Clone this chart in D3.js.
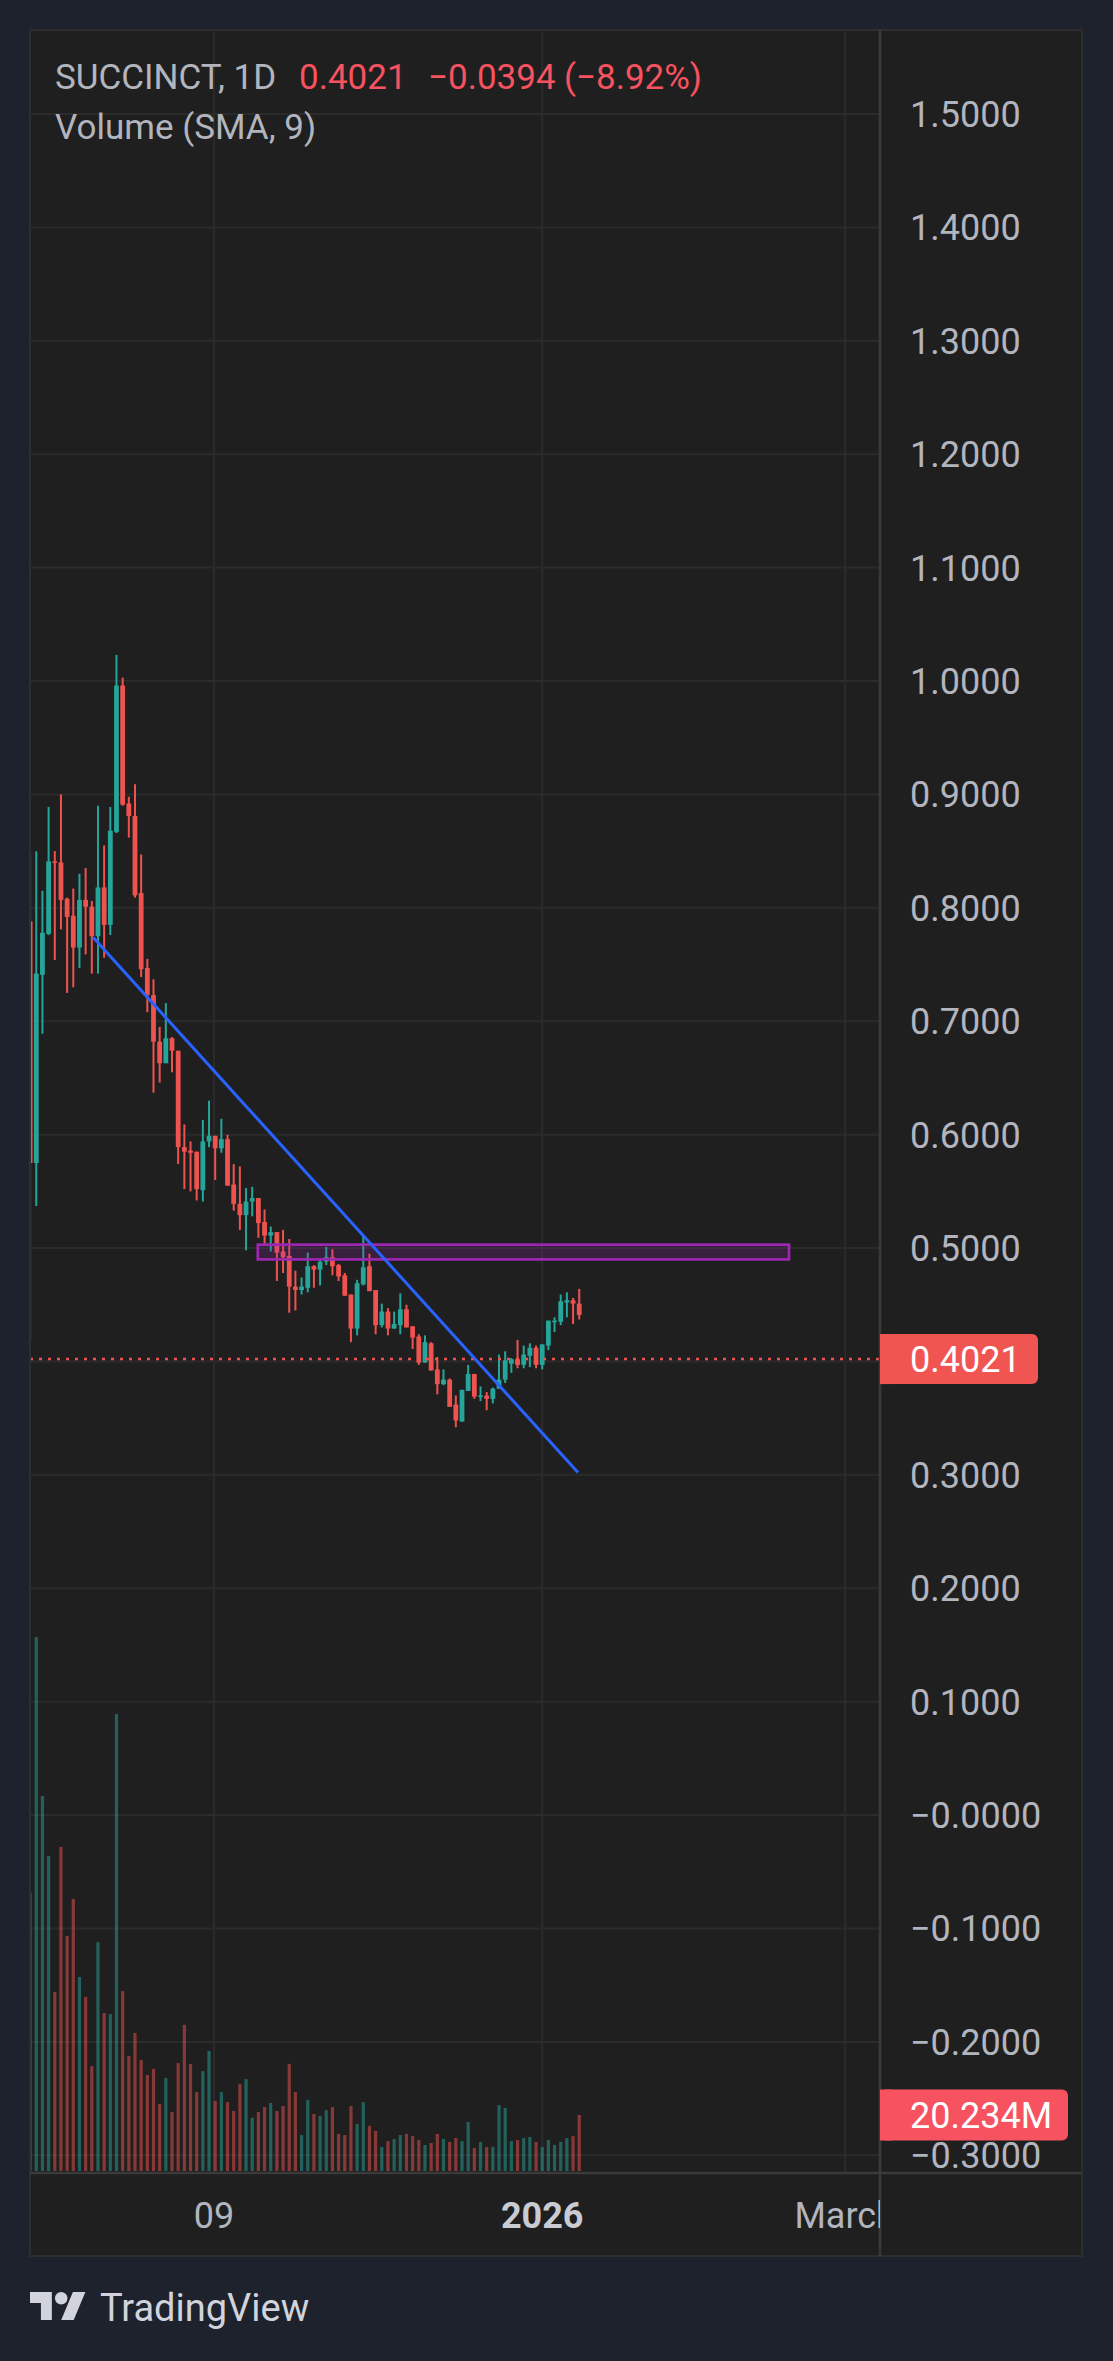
<!DOCTYPE html>
<html lang="en">
<head>
    <script src="https://d3js.org/d3.v7.min.js"></script>
    <style>
        html, body { margin: 0; padding: 0; background: #1e222d; }
        svg { display: block; font-family: Roboto, "Noto Sans", sans-serif; }
        .tick-label { fill: #b2b5be; font-size: 36px; }
        .legend { font-size: 35px; }
    </style>
</head>
<body>
    <div id="chart"></div>

    <script>
        // Daily candles (bar index 0 = first visible bar)
        const opens  = [0.788, 0.575, 0.741, 0.777, 0.841, 0.840, 0.808, 0.793, 0.765, 0.807,
                        0.801, 0.775, 0.818, 0.785, 0.867, 0.996, 0.892, 0.881, 0.813, 0.747,
                        0.723, 0.682, 0.663, 0.685, 0.674, 0.589, 0.586, 0.585, 0.551, 0.594,
                        0.599, 0.588, 0.596, 0.556, 0.539, 0.529, 0.541, 0.544, 0.523, 0.511,
                        0.514, 0.497, 0.493, 0.466, 0.463, 0.465, 0.484, 0.481, 0.488, 0.492,
                        0.485, 0.476, 0.459, 0.429, 0.468, 0.484, 0.463, 0.432, 0.444, 0.429,
                        0.432, 0.446, 0.431, 0.422, 0.399, 0.416, 0.393, 0.380, 0.384, 0.362,
                        0.347, 0.374, 0.389, 0.369, 0.370, 0.367, 0.376, 0.384, 0.398, 0.402,
                        0.397, 0.405, 0.412, 0.397, 0.414, 0.435, 0.435, 0.452, 0.454, 0.451];
        const highs  = [0.848, 0.850, 0.815, 0.889, 0.850, 0.900, 0.809, 0.817, 0.830, 0.835,
                        0.806, 0.890, 0.855, 0.889, 1.023, 1.003, 0.898, 0.909, 0.847, 0.755,
                        0.737, 0.695, 0.716, 0.686, 0.674, 0.609, 0.594, 0.585, 0.613, 0.630,
                        0.599, 0.614, 0.600, 0.574, 0.572, 0.553, 0.554, 0.544, 0.534, 0.519,
                        0.514, 0.516, 0.508, 0.480, 0.474, 0.496, 0.485, 0.490, 0.501, 0.499,
                        0.486, 0.478, 0.459, 0.472, 0.511, 0.495, 0.463, 0.451, 0.447, 0.444,
                        0.460, 0.450, 0.431, 0.424, 0.423, 0.417, 0.404, 0.393, 0.385, 0.370,
                        0.375, 0.397, 0.389, 0.378, 0.373, 0.377, 0.406, 0.409, 0.403, 0.419,
                        0.414, 0.416, 0.414, 0.415, 0.436, 0.439, 0.459, 0.461, 0.456, 0.464];
        const lows   = [0.419, 0.537, 0.689, 0.776, 0.754, 0.781, 0.725, 0.730, 0.747, 0.759,
                        0.742, 0.742, 0.756, 0.776, 0.866, 0.890, 0.862, 0.809, 0.739, 0.708,
                        0.637, 0.646, 0.663, 0.655, 0.574, 0.552, 0.550, 0.542, 0.541, 0.589,
                        0.560, 0.584, 0.555, 0.533, 0.516, 0.498, 0.528, 0.509, 0.502, 0.497,
                        0.471, 0.478, 0.443, 0.445, 0.459, 0.461, 0.465, 0.467, 0.485, 0.476,
                        0.471, 0.458, 0.417, 0.423, 0.467, 0.462, 0.424, 0.430, 0.423, 0.429,
                        0.424, 0.430, 0.411, 0.397, 0.399, 0.392, 0.371, 0.379, 0.360, 0.342,
                        0.347, 0.374, 0.367, 0.365, 0.357, 0.363, 0.376, 0.381, 0.390, 0.394,
                        0.394, 0.395, 0.394, 0.393, 0.410, 0.426, 0.432, 0.439, 0.433, 0.437];
        const closes = [0.575, 0.742, 0.778, 0.841, 0.840, 0.807, 0.792, 0.765, 0.807, 0.801,
                        0.775, 0.818, 0.785, 0.868, 0.996, 0.891, 0.881, 0.811, 0.746, 0.723,
                        0.682, 0.663, 0.685, 0.674, 0.589, 0.585, 0.584, 0.552, 0.594, 0.599,
                        0.588, 0.596, 0.555, 0.539, 0.529, 0.541, 0.544, 0.522, 0.511, 0.514,
                        0.496, 0.492, 0.466, 0.463, 0.466, 0.484, 0.481, 0.488, 0.492, 0.484,
                        0.475, 0.458, 0.429, 0.469, 0.483, 0.462, 0.432, 0.444, 0.429, 0.433,
                        0.446, 0.430, 0.421, 0.399, 0.417, 0.392, 0.380, 0.384, 0.360, 0.348,
                        0.375, 0.389, 0.369, 0.370, 0.367, 0.376, 0.384, 0.401, 0.402, 0.397,
                        0.406, 0.412, 0.397, 0.415, 0.436, 0.436, 0.453, 0.454, 0.451, 0.441];
        // volume in millions
        const volumes = [100.6, 192.9, 135.5, 113.8, 64.7, 117.1, 84.9, 98.3, 70.1, 62.9,
                         37.9, 82.7, 57.1, 56.7, 165.1, 65.0, 41.6, 49.9, 40.1, 34.7,
                         36.9, 24.2, 33.6, 21.3, 39.0, 52.8, 38.7, 28.5, 36.1, 43.4,
                         25.3, 28.5, 24.9, 21.7, 31.4, 33.2, 19.2, 21.3, 23.1, 24.6,
                         21.7, 23.5, 38.7, 28.5, 13.0, 25.7, 20.6, 19.9, 22.0, 23.1,
                         13.4, 13.0, 23.5, 17.0, 24.9, 16.3, 14.5, 8.7, 10.8, 11.6,
                         13.0, 13.4, 12.6, 11.2, 9.4, 10.1, 13.4, 11.6, 10.5, 11.9,
                         10.8, 17.7, 8.3, 10.5, 8.7, 8.7, 23.8, 22.8, 10.8, 11.2,
                         11.9, 12.3, 10.5, 8.7, 11.2, 9.4, 10.5, 11.9, 12.6, 20.234];

        // Axis ticks
        const priceTicks = d3.range(-3, 16).map(k => k / 10);
        const timeTickIdx = [29.8, 83.0, 132.1];
        const timeTickLabels = ['09', '2026', 'March'];

        // Drawings on the chart
        const trendIdx = [10.2, 88.8];
        const trendPrice = [0.774, 0.302];
        const zoneIdx = [36.9, 123.0];
        const zonePrice = [0.503, 0.490];

        const lastPrice = 0.4021;
        const lastVolume = 20.234;

        const W = 1113, H = 2361;
        const padL = 30, padR = 1082, padT = 30, axisX = 880, axisY = 2173, padB = 2256;
        const green = '#26a69a', red = '#ef5350';

        const svg = d3.select('#chart').append('svg')
            .attr('width', W)
            .attr('height', H);

        svg.append('rect').attr('width', W).attr('height', H).attr('fill', '#1e222d');
        svg.append('rect')
            .attr('x', padL).attr('y', padT)
            .attr('width', padR - padL).attr('height', padB - padT)
            .attr('fill', '#1f1f1f')
            .attr('stroke', '#2e2e2e').attr('stroke-width', 2);

        // Scales
        const x = d3.scaleLinear().domain([0, 89]).range([30.1, 30.1 + 89 * 6.17]);
        const y = d3.scaleLinear().domain([-0.3, 1.5]).range([2155.3, 114]);
        const yVol = d3.scaleLinear().domain([0, 200]).range([2171, 2171 - 553.5]);

        const defs = svg.append('defs');
        defs.append('clipPath').attr('id', 'plot')
            .append('rect').attr('x', padL + 1).attr('y', padT).attr('width', axisX - padL - 1).attr('height', axisY - padT);
        defs.append('clipPath').attr('id', 'timeaxis')
            .append('rect').attr('x', padL).attr('y', axisY).attr('width', axisX - padL).attr('height', padB - axisY);

        // Grid
        const grid = svg.append('g').attr('clip-path', 'url(#plot)');
        grid.selectAll('line.h')
            .data(priceTicks)
            .enter().append('line')
            .attr('class', 'h')
            .attr('x1', padL).attr('x2', axisX)
            .attr('y1', d => y(d)).attr('y2', d => y(d))
            .attr('stroke', '#2b2b2b').attr('stroke-width', 2);
        grid.selectAll('line.v')
            .data(timeTickIdx)
            .enter().append('line')
            .attr('class', 'v')
            .attr('x1', d => x(d)).attr('x2', d => x(d))
            .attr('y1', padT).attr('y2', axisY)
            .attr('stroke', '#2b2b2b').attr('stroke-width', 2);

        const bars = d3.range(opens.length).map(i => ({
            i: i, o: opens[i], h: highs[i], l: lows[i], c: closes[i], v: volumes[i],
            up: closes[i] >= opens[i]
        }));

        const plot = svg.append('g').attr('clip-path', 'url(#plot)');

        // Volume bars
        plot.selectAll('rect.vol')
            .data(bars)
            .enter().append('rect')
            .attr('class', 'vol')
            .attr('x', d => x(d.i) - 1.6)
            .attr('width', 3.2)
            .attr('y', d => yVol(d.v))
            .attr('height', d => yVol(0) - yVol(d.v))
            .attr('fill', d => d.up ? green : red)
            .attr('fill-opacity', 0.5);

        // Candles
        plot.selectAll('line.wick')
            .data(bars)
            .enter().append('line')
            .attr('class', 'wick')
            .attr('x1', d => x(d.i)).attr('x2', d => x(d.i))
            .attr('y1', d => y(d.h)).attr('y2', d => y(d.l))
            .attr('stroke', d => d.up ? green : red)
            .attr('stroke-width', 2);
        plot.selectAll('rect.body')
            .data(bars)
            .enter().append('rect')
            .attr('class', 'body')
            .attr('x', d => x(d.i) - 2.4)
            .attr('width', 4.8)
            .attr('y', d => y(Math.max(d.o, d.c)))
            .attr('height', d => Math.max(1.5, Math.abs(y(d.o) - y(d.c))))
            .attr('fill', d => d.up ? green : red);

        // Last price line
        plot.append('line')
            .attr('x1', padL).attr('x2', axisX)
            .attr('y1', y(lastPrice)).attr('y2', y(lastPrice))
            .attr('stroke', red).attr('stroke-width', 2.5)
            .attr('stroke-dasharray', '3 6');

        // Zone rectangle
        plot.append('rect')
            .attr('x', x(zoneIdx[0])).attr('y', y(zonePrice[0]))
            .attr('width', x(zoneIdx[1]) - x(zoneIdx[0]))
            .attr('height', y(zonePrice[1]) - y(zonePrice[0]))
            .attr('fill', 'rgba(156, 39, 176, 0.2)')
            .attr('stroke', '#9c27b0').attr('stroke-width', 2.7);

        // Trend line
        plot.append('line')
            .attr('x1', x(trendIdx[0])).attr('y1', y(trendPrice[0]))
            .attr('x2', x(trendIdx[1])).attr('y2', y(trendPrice[1]))
            .attr('stroke', '#2962ff').attr('stroke-width', 3);

        // Separators
        svg.append('line').attr('x1', axisX).attr('x2', axisX).attr('y1', padT).attr('y2', padB)
            .attr('stroke', '#3a3a3a').attr('stroke-width', 2.5);
        svg.append('line').attr('x1', padL).attr('x2', padR).attr('y1', axisY).attr('y2', axisY)
            .attr('stroke', '#3a3a3a').attr('stroke-width', 2.5);

        // Price axis labels
        const fmt = d => (d < 0.00001 ? '\u2212' : '') + Math.abs(d).toFixed(4);
        svg.selectAll('text.price')
            .data(priceTicks.filter(d => Math.abs(d - 0.4) > 0.001))
            .enter().append('text')
            .attr('class', 'tick-label price')
            .attr('x', 910)
            .attr('y', d => y(d))
            .attr('dy', '0.36em')
            .text(fmt);

        // Time axis labels
        svg.append('g').attr('clip-path', 'url(#timeaxis)')
            .selectAll('text')
            .data(timeTickIdx)
            .enter().append('text')
            .attr('class', 'tick-label')
            .attr('x', d => x(d))
            .attr('y', 2215)
            .attr('dy', '0.36em')
            .attr('text-anchor', 'middle')
            .attr('font-weight', (d, i) => timeTickLabels[i] === '2026' ? 'bold' : 'normal')
            .style('fill', (d, i) => timeTickLabels[i] === '2026' ? '#c9cbd2' : '#b2b5be')
            .text((d, i) => timeTickLabels[i]);

        // Price / volume tags on the axis
        function tag(cy, h, w, color, label) {
            const g = svg.append('g');
            g.append('rect').attr('x', axisX).attr('y', cy - h / 2).attr('width', w).attr('height', h)
                .attr('rx', 6).attr('fill', color);
            g.append('rect').attr('x', axisX).attr('y', cy - h / 2).attr('width', 12).attr('height', h)
                .attr('fill', color);
            g.append('text').attr('x', 910).attr('y', cy).attr('dy', '0.36em')
                .attr('fill', '#ffffff').attr('font-size', 36).text(label);
        }
        tag(y(lastPrice), 50, 158, '#f05552', lastPrice.toFixed(4));
        tag(yVol(lastVolume), 51, 188, '#f7525f', lastVolume.toFixed(3) + 'M');

        // Legend
        const legend = svg.append('text').attr('class', 'legend').attr('y', 89);
        legend.append('tspan').attr('x', 55).attr('fill', '#b2b5be').text('SUCCINCT, 1D');
        legend.append('tspan').attr('x', 299).attr('fill', '#f7525f').text('0.4021');
        legend.append('tspan').attr('x', 428).attr('fill', '#f7525f').text('\u22120.0394');
        legend.append('tspan').attr('x', 564).attr('fill', '#f7525f').text('(\u22128.92%)');
        svg.append('text').attr('class', 'legend').attr('x', 55).attr('y', 139)
            .attr('fill', '#b2b5be').text('Volume (SMA, 9)');

        // TradingView logo
        const logo = svg.append('g').attr('transform', 'translate(30,2285.8) scale(1.56)').attr('fill', '#d1d4dc');
        logo.append('path').attr('d', 'M14 22H7V11H0V4h14v18zM28 22h-8l7.5-18h8L28 22z');
        logo.append('circle').attr('cx', 20).attr('cy', 8).attr('r', 4);
        svg.append('text').attr('x', 100).attr('y', 2321)
            .attr('font-size', 38).attr('fill', '#d1d4dc').text('TradingView');
    </script>
</body>
</html>
